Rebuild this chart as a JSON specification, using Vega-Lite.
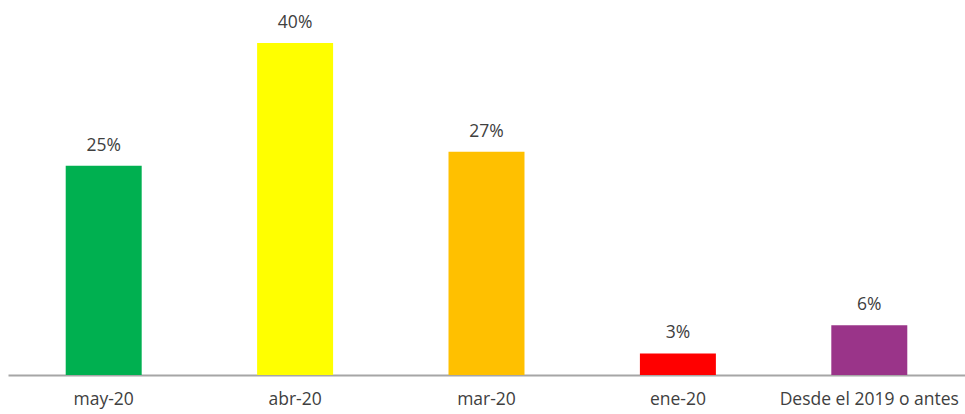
{
  "$schema": "https://vega.github.io/schema/vega-lite/v6.json",
  "width": 957,
  "height": 375,
  "autosize": {"type": "none"},
  "padding": {"left": 8, "top": 0, "right": 0, "bottom": 39},
  "background": "white",
  "config": {"view": {"stroke": null}, "font": "Open Sans"},
  "data": {
    "values": [
      {"periodo": "may-20", "valor": 0.252, "color": "#00B050"},
      {"periodo": "abr-20", "valor": 0.40, "color": "#FFFF00"},
      {"periodo": "mar-20", "valor": 0.269, "color": "#FFC000"},
      {"periodo": "ene-20", "valor": 0.026, "color": "#FF0000"},
      {"periodo": "Desde el 2019 o antes", "valor": 0.06, "color": "#9A3489"}
    ]
  },
  "encoding": {
    "x": {
      "field": "periodo",
      "type": "nominal",
      "sort": null,
      "scale": {"paddingInner": 0.603, "paddingOuter": 0.3015},
      "axis": {
        "title": null,
        "labelAngle": 0,
        "labelFontSize": 17.5,
        "labelColor": "#404040",
        "labelPadding": 15,
        "labelLimit": 400,
        "labelOverlap": false,
        "ticks": false,
        "domainColor": "#A6A6A6",
        "domainWidth": 2
      }
    },
    "y": {
      "field": "valor",
      "type": "quantitative",
      "scale": {"domain": [0, 0.4518], "nice": false},
      "axis": null
    }
  },
  "layer": [
    {
      "mark": {"type": "bar"},
      "encoding": {"color": {"field": "color", "type": "nominal", "scale": null}}
    },
    {
      "mark": {"type": "text", "baseline": "alphabetic", "dy": -15, "fontSize": 17.5, "color": "#404040"},
      "encoding": {"text": {"field": "valor", "type": "quantitative", "format": ".0%"}}
    }
  ]
}
